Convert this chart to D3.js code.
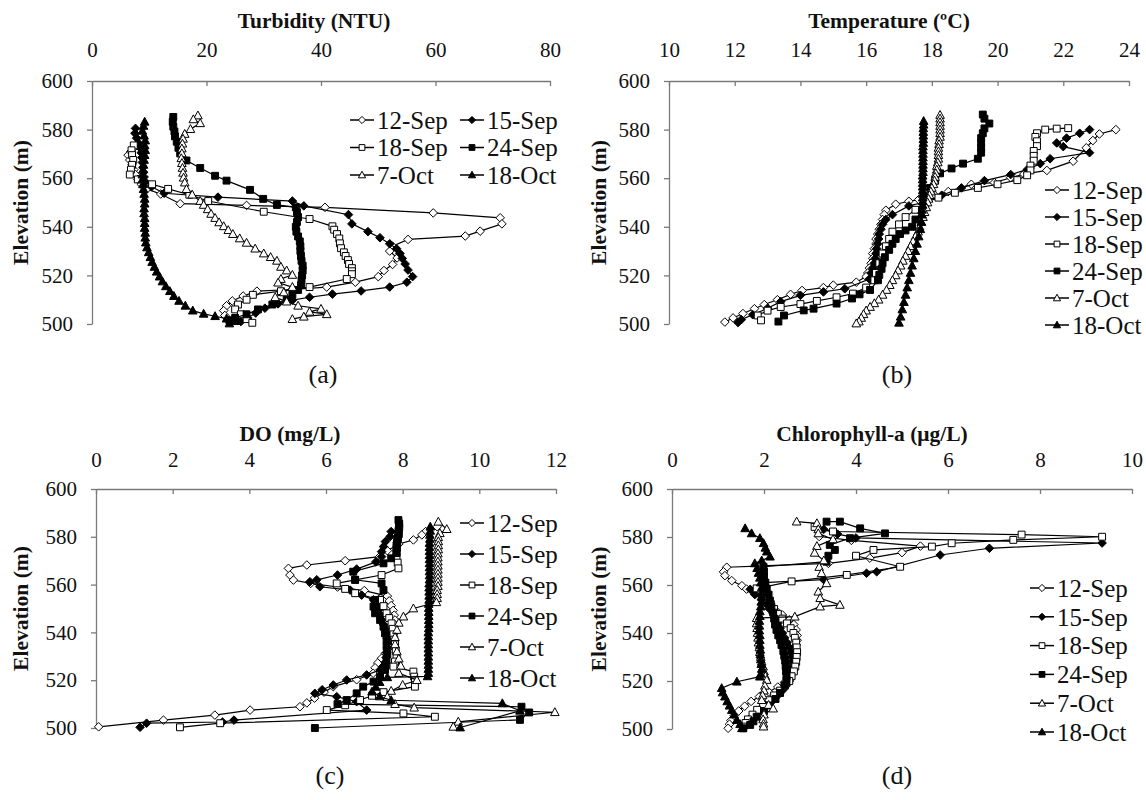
<!DOCTYPE html>
<html>
<head>
<meta charset="utf-8">
<script src="https://cdn.jsdelivr.net/npm/d3@7"></script>
<style>
  body { margin: 0; background: #fff; }
  svg { display: block; }
</style>
</head>
<body>
<svg id="chart" width="1146" height="800"></svg>
<script>
// ---- Sampling dates (legend order) and axis ticks ----
const dates = ["12-Sep", "15-Sep", "18-Sep", "24-Sep", "7-Oct", "18-Oct"];
const elevTicks = [500, 520, 540, 560, 580, 600];
const turbTicks = [0, 20, 40, 60, 80];
const tempTicks = [10, 12, 14, 16, 18, 20, 22, 24];
const doTicks = [0, 2, 4, 6, 8, 10, 12];
const chlTicks = [0, 2, 4, 6, 8, 10];

// ---- Turbidity profiles: [NTU, elevation m] ----
const turb12Sep = [[7.5,573],[6.8,571],[6.3,569.5],[6.6,567.5],[7.0,565.5],[7.3,563.5],[7.6,561.5],[8.0,559.5],[8.6,557.5],[9.6,555.5],[12.0,553.5],[15.4,549.5],[27.0,548.8],[40.7,548.0],[59.6,545.7],[71.3,543.7],[71.6,541.2],[67.8,538.2],[65.2,536.2],[55.2,534.8],[52.5,532.0],[52.0,530.0],[53.3,527.2],[52.5,524.5],[51.0,522.0],[50.0,519.5],[46.0,517.2],[41.0,515.2],[35.0,514.2],[28.8,513.5],[26.4,511.5],[24.5,509.5],[23.5,507.5],[23.0,505.5],[23.2,503.5],[24.0,501.5]];
const turb15Sep = [[7.6,580.5],[7.5,578.5],[7.8,576.5],[8.1,574.5],[8.4,572.5],[8.6,570.5],[8.7,568.5],[8.8,566.5],[8.9,564.5],[9.0,562.5],[9.1,560.5],[9.3,558.5],[10.4,556.5],[12.6,553.8],[22.0,552.2],[35.0,550.6],[37.0,548.6],[44.8,545.0],[45.4,541.2],[48.2,538.0],[50.3,535.5],[52.0,533.0],[53.2,531.0],[53.8,529.0],[54.2,527.0],[54.7,524.7],[55.2,522.2],[56.0,519.5],[55.0,517.2],[52.0,515.2],[47.0,513.6],[42.0,512.3],[38.0,511.0],[35.0,509.8],[32.5,508.3],[30.2,506.5],[28.6,504.5],[27.2,502.5],[26.0,501.0]];
const turb18Sep = [[7.3,573.5],[6.9,571.5],[7.0,569.5],[7.2,567.5],[7.0,565.5],[6.8,563.5],[6.6,561.5],[8.0,559.5],[10.5,557.5],[13.3,555.6],[17.0,553.2],[20.3,550.6],[30.0,546.2],[38.0,543.2],[42.0,540.2],[42.3,538.8],[42.8,537.0],[43.2,535.2],[43.3,533.2],[43.5,531.2],[44.0,529.5],[44.3,528.0],[44.7,526.3],[44.9,524.7],[45.4,523.0],[45.4,521.7],[45.4,520.5],[44.5,518.5],[38.0,515.2],[33.0,513.5],[28.1,512.0],[27.0,510.0],[25.5,508.0],[25.0,506.0],[26.0,504.0],[27.0,502.0],[28.0,500.5]];
const turb24Sep = [[14.2,585.2],[14.1,583.2],[14.2,581.2],[14.4,579.2],[14.5,577.2],[14.8,575.0],[15.1,572.5],[15.4,570.2],[16.5,567.3],[18.9,564.2],[21.5,561.0],[23.5,559.0],[27.6,555.2],[29.9,551.5],[32.3,549.0],[35.6,548.0],[35.8,546.0],[36.0,544.0],[35.8,542.0],[35.6,540.0],[35.7,538.0],[36.0,536.0],[36.3,534.0],[36.4,532.0],[36.4,530.0],[36.5,528.0],[36.6,526.0],[36.8,524.0],[36.8,522.0],[36.7,520.0],[36.6,518.0],[36.5,516.0],[36.0,514.0],[35.0,512.0],[34.0,510.0],[31.5,508.0],[29.0,506.0],[27.0,504.0],[25.0,502.5],[24.0,501.5]];
const turb7Oct = [[18.5,585.8],[17.7,584.2],[18.9,582.6],[17.2,580.2],[16.2,578.2],[15.9,576.2],[15.8,574.2],[15.7,572.2],[15.7,570.2],[15.6,568.2],[15.7,566.2],[15.8,564.2],[15.9,562.2],[16.0,560.2],[16.2,558.2],[16.5,555.5],[17.5,553.2],[18.9,550.6],[19.5,549.0],[20.2,547.2],[20.8,545.3],[21.5,543.6],[22.2,541.8],[23.0,540.2],[23.8,538.6],[24.6,537.0],[25.8,535.2],[27.0,533.4],[28.5,531.0],[30.0,529.0],[31.2,527.5],[32.3,526.0],[33.0,523.5],[34.0,522.0],[35.0,520.2],[33.0,518.5],[32.5,517.0],[35.0,515.2],[33.5,513.0],[32.0,511.0],[34.0,509.2],[36.0,507.5],[40.0,506.2],[38.0,505.0],[41.0,504.0],[37.0,503.0],[35.0,502.0]];
const turb18Oct = [[9.2,583.2],[9.0,581.5],[8.8,579.5],[9.1,577.5],[9.3,575.5],[9.2,573.5],[9.3,571.5],[9.2,569.5],[9.1,567.5],[9.0,565.5],[8.9,563.5],[8.8,561.5],[8.8,559.5],[8.9,557.5],[9.0,555.5],[9.1,553.5],[9.2,551.5],[9.2,549.5],[9.1,547.5],[9.1,545.5],[9.2,543.5],[9.2,541.5],[9.2,539.5],[9.3,537.5],[9.3,535.5],[9.4,533.5],[9.6,531.5],[9.9,529.5],[10.2,527.5],[10.5,525.5],[10.9,523.5],[11.3,521.5],[11.8,519.5],[12.3,517.5],[12.9,515.5],[13.6,513.5],[14.3,511.5],[15.2,509.5],[16.3,507.5],[17.6,505.5],[19.5,504.2],[21.5,503.2],[23.5,502.2],[25.0,501.2],[24.0,500.2]];

// ---- Temperature profiles: [degC, elevation m] ----
const temp12Sep = [[23.6,580.0],[23.1,578.2],[22.9,575.5],[22.7,572.5],[22.3,567.0],[21.5,563.2],[20.8,561.7],[20.4,560.2],[19.9,558.2],[19.2,557.5],[18.5,554.5],[18.1,552.8],[17.6,551.2],[17.3,550.5],[16.9,549.3],[16.6,546.8],[16.55,545],[16.5,543],[16.45,541],[16.4,539],[16.35,537],[16.3,535],[16.3,533],[16.25,531],[16.2,529],[16.2,527],[16.15,525],[16.1,523],[16.05,521],[16.0,519.5],[15.7,517.2],[15.0,516.0],[14.7,515.0],[14.05,513.8],[13.7,512.2],[13.3,510.0],[12.9,508.0],[12.6,506.3],[12.25,504.3],[11.95,502.5],[11.7,500.8]];
const temp15Sep = [[22.8,580.0],[22.5,578.5],[22.1,576.5],[21.8,574.5],[22.0,573.0],[22.8,570.5],[21.6,568.0],[21.3,566.0],[20.9,563.5],[20.4,561.5],[19.6,559.0],[18.9,556.0],[18.3,553.0],[17.8,550.2],[17.3,548.6],[16.8,545.0],[16.6,543],[16.5,541.0],[16.45,539],[16.4,537.0],[16.38,535],[16.35,533.0],[16.32,531],[16.3,529.0],[16.28,527],[16.25,525.0],[16.2,523],[16.15,521.0],[16.1,518.5],[15.35,514.5],[14.7,513.2],[14.0,511.8],[13.4,509.2],[13.0,506.5],[12.55,503.8],[12.2,501.8],[12.1,500.6]];
const temp18Sep = [[22.15,580.6],[21.8,580.4],[21.45,580.0],[21.2,578.5],[21.15,577.0],[21.2,575.2],[21.2,573.2],[21.1,571.2],[21.1,569.2],[21.1,567.2],[21.0,565.2],[21.0,563.2],[20.9,561.2],[20.6,559.2],[20.0,557.5],[19.4,556.0],[18.7,554.0],[18.2,552.0],[17.8,550.0],[17.5,547.0],[17.2,544.0],[17.0,541.0],[16.8,538.0],[16.7,535.0],[16.6,532.0],[16.5,529.0],[16.4,525.0],[16.3,521.0],[16.25,518.0],[16.0,515.0],[15.6,512.5],[15.1,511.0],[14.5,509.5],[14.0,508.2],[13.4,507.0],[13.0,505.5],[12.7,503.5],[12.8,501.5]];
const temp24Sep = [[19.55,586.2],[19.6,584.5],[19.75,582.5],[19.6,580.5],[19.55,578.5],[19.5,576.5],[19.5,574.5],[19.5,572.5],[19.5,570.5],[19.4,568.0],[18.95,566.0],[18.6,564.0],[18.25,562.0],[18.1,559.0],[17.95,556.0],[17.85,552.5],[17.8,549.5],[17.7,546.5],[17.5,543],[17.4,540.0],[17.2,538.5],[17.03,537.0],[16.9,535],[16.8,533.0],[16.7,530.5],[16.57,527.5],[16.5,525],[16.47,522.7],[16.4,520.2],[16.36,518.0],[16.12,514.0],[15.8,512.2],[15.57,510.5],[15.1,508.4],[14.4,506.3],[14.1,505.6],[13.5,503.5],[13.33,501.0]];
const temp7Oct = [[18.25,586.0],[18.25,584.5],[18.25,583],[18.25,581.5],[18.25,580],[18.25,578.5],[18.25,577],[18.22,575.5],[18.22,574],[18.2,572.5],[18.2,571],[18.2,569.5],[18.2,568],[18.18,566.5],[18.15,565],[18.15,563.5],[18.12,562],[18.1,560.5],[18.08,559],[18.05,557.5],[18.0,556],[17.97,554.5],[17.93,553],[17.9,551.5],[17.87,550],[17.83,548],[17.78,546],[17.73,544],[17.68,542],[17.63,540],[17.58,538],[17.5,536],[17.43,534],[17.35,532],[17.28,530],[17.2,528],[17.12,526],[17.05,524],[16.97,522],[16.9,520],[16.8,518],[16.72,516],[16.62,514],[16.5,512],[16.38,510],[16.25,508.5],[16.12,507],[16.0,505.5],[15.92,504],[15.85,502.5],[15.78,501],[15.7,500.2]];
const temp18Oct = [[17.75,583.5],[17.75,582],[17.74,580.5],[17.74,579],[17.74,577.5],[17.74,576],[17.74,574.5],[17.73,573],[17.73,571.5],[17.73,570],[17.73,568.5],[17.73,567],[17.73,565.5],[17.73,564],[17.73,562.5],[17.72,561],[17.72,559.5],[17.72,558],[17.72,556.5],[17.72,555],[17.72,553.5],[17.72,552],[17.72,550.5],[17.72,549],[17.7,547],[17.7,545],[17.68,542],[17.65,539],[17.6,536],[17.55,533],[17.5,530],[17.45,527],[17.4,524],[17.35,521],[17.3,518],[17.25,515],[17.2,512],[17.15,509],[17.1,506],[17.05,503],[17.0,500.5]];

// ---- Dissolved oxygen profiles: [mg/L, elevation m] ----
const do12Sep = [[8.9,584.2],[8.6,582.2],[8.5,580.8],[8.28,578.7],[7.9,577],[7.6,574.2],[7.4,571.7],[6.5,570],[5.5,568.2],[5.02,566.8],[5.06,564],[5.15,561.9],[5.6,560.5],[6.3,559],[7.0,557.5],[7.6,555.2],[7.65,553.2],[7.7,551.2],[7.75,549.2],[7.78,547.2],[7.8,545.2],[7.8,543.2],[7.78,541.2],[7.75,539.2],[7.72,537.2],[7.68,535.2],[7.62,533.2],[7.55,531.2],[7.45,529.2],[7.35,527.2],[7.28,525.2],[7.23,522.9],[6.8,520.2],[6.19,517.3],[5.95,515],[5.7,512.5],[5.5,510.5],[5.32,508.9],[4.02,507.5],[3.1,505.4],[1.76,503.3],[0.07,500.5]];
const do15Sep = [[7.7,582.2],[7.67,580.1],[7.55,578],[7.5,575.9],[7.45,573.8],[7.45,571.7],[7.3,569.5],[6.8,566.5],[6.3,564],[5.76,562],[5.58,561.2],[5.84,559.1],[6.63,557.7],[6.93,555.6],[7.24,553.6],[7.3,551.5],[7.37,549.4],[7.42,547.3],[7.45,545.2],[7.5,543.2],[7.55,541.4],[7.58,539.6],[7.6,537.5],[7.6,535.5],[7.6,533.5],[7.58,531.5],[7.57,529.5],[7.55,527.5],[7.5,525.8],[7.41,524.3],[7.06,522.2],[6.54,520.1],[6.19,518],[5.9,516],[5.71,514.5],[6.28,513.1],[6.8,511],[7.06,507.5],[3.6,503.3],[3.3,502.5],[1.32,502],[1.15,500.3]];
const do18Sep = [[7.9,581.2],[7.88,579.5],[7.85,577.5],[7.85,575.5],[7.84,573.5],[7.84,571.5],[7.87,569.2],[7.89,566.8],[7.45,564],[6.76,562],[6.28,560.5],[6.5,558.2],[6.76,556.4],[7.41,553.6],[7.5,551],[7.58,548],[7.65,546],[7.71,543.8],[7.74,541.5],[7.76,539.2],[7.78,537],[7.8,535],[7.82,532.5],[7.84,530],[7.8,527.8],[7.76,525.7],[8.28,523.6],[8.3,521.5],[8.32,519.5],[8.32,517.3],[7.5,515],[7.2,513.5],[6.89,511.7],[6.5,509.5],[6.02,507.5],[8.02,506.1],[8.84,504.7],[3.24,502],[2.19,500.3]];
const do24Sep = [[7.89,587],[7.91,585.5],[7.91,584],[7.89,582.5],[7.89,581],[7.87,579.5],[7.86,578],[7.84,576.5],[7.84,575],[7.84,573.2],[7.7,571],[7.5,568.9],[6.71,565.4],[6.76,562],[7.45,560.5],[7.5,557.7],[7.28,553.6],[7.24,550.8],[7.28,548],[7.41,545.2],[7.5,542.4],[7.54,539.6],[7.58,537],[7.58,534],[7.6,531],[7.58,528.5],[7.56,526.3],[7.54,524.3],[7.41,521.5],[7.24,519.4],[6.97,517.3],[6.8,514.5],[6.54,511.7],[6.3,510],[11.1,508.9],[11.3,506.5],[11.06,503.4],[5.71,500]];
const do7Oct = [[8.93,586.3],[9.15,583.2],[8.97,581.5],[8.93,579.8],[8.93,578.1],[8.93,576.4],[8.93,574.7],[8.92,573],[8.92,571.3],[8.92,569.6],[8.92,567.9],[8.92,566.2],[8.92,564.5],[8.92,562.8],[8.92,561.1],[8.92,559.4],[8.9,557.7],[8.9,556],[8.9,554.3],[8.88,552.6],[8.28,550],[8.02,546.6],[7.9,544],[7.85,541],[7.8,538],[7.8,535],[7.85,532],[7.9,529],[7.95,526],[7.9,523],[8.37,520],[8.0,518],[7.7,515.5],[7.6,513],[7.8,510],[8.3,508.5],[11.97,506.6],[9.45,502.6],[9.32,500.5]];
const do18Oct = [[8.72,584.2],[8.72,582.5],[8.71,580.8],[8.71,579.1],[8.7,577.4],[8.7,575.7],[8.7,574],[8.7,572.3],[8.7,570.6],[8.7,568.9],[8.7,567.2],[8.7,565.5],[8.7,563.8],[8.7,562.1],[8.69,560.4],[8.69,558.7],[8.69,557],[8.69,555.3],[8.69,553.6],[8.68,551.9],[8.68,550.2],[8.68,548.5],[8.68,546.8],[8.68,545.1],[8.68,543.4],[8.68,541.7],[8.67,540],[8.67,538.3],[8.67,536.6],[8.67,534.9],[8.67,533.2],[8.67,531.5],[8.67,529.8],[8.67,528.1],[8.67,526.4],[8.67,524.7],[8.67,523],[8.65,521.6],[7.6,521.2],[7.4,519.2],[7.3,517.2],[7.2,515.2],[7.4,513.2],[7.7,511.6],[10.6,510.3],[11.06,507.2],[9.5,500.2]];

// ---- Chlorophyll-a profiles: [ug/L, elevation m] ----
const chl12Sep = [[3.2,580.2],[3.9,578.6],[5.4,576.2],[5.0,573.5],[4.3,571.2],[3.4,569],[1.19,567.4],[1.12,565.5],[1.15,563.9],[1.3,561.8],[1.52,559.7],[1.62,558.3],[1.8,556.2],[1.95,554],[2.1,551.5],[2.25,549.5],[2.4,547.5],[2.55,545.5],[2.65,543.5],[2.7,541.3],[2.72,539],[2.72,537],[2.7,535],[2.7,533],[2.68,531],[2.66,529],[2.64,527],[2.62,525],[2.58,523],[2.52,521],[2.45,519.5],[2.3,517.5],[2.1,515.5],[1.9,513.5],[1.72,511.5],[1.58,509.5],[1.45,507.5],[1.35,505.5],[1.28,503.5],[1.25,502],[1.22,500.3]];
const chl15Sep = [[3.3,583.2],[3.6,581.2],[4.0,579.6],[9.35,577.5],[6.9,575.3],[5.83,572.5],[4.45,565.5],[4.23,564.9],[3.3,562.2],[2.0,561],[1.7,558.2],[1.8,556],[1.95,554],[2.05,552],[2.12,550],[2.2,548],[2.25,546],[2.3,544],[2.35,542],[2.4,540],[2.45,538],[2.5,536],[2.55,534],[2.58,532],[2.6,530],[2.62,528],[2.63,526],[2.62,524],[2.58,522],[2.55,520],[2.48,518],[2.4,516],[2.3,514],[2.2,512],[2.05,510],[1.9,508],[1.8,506],[1.7,504.5],[1.65,503],[1.6,501.5]];
const chl18Sep = [[3.1,584.2],[3.5,582.3],[7.6,581],[9.35,580.1],[7.42,578.8],[6.08,577.4],[5.65,576],[4.38,574.6],[4.0,572.2],[4.96,567.6],[3.8,564.2],[2.6,561.5],[1.84,558.6],[2.0,556.5],[2.08,554.5],[2.15,552],[2.22,550],[2.3,548],[2.4,546],[2.5,544],[2.58,542],[2.64,540],[2.67,538],[2.7,536],[2.71,534],[2.72,532],[2.71,530],[2.7,528],[2.68,526],[2.65,524],[2.6,522],[2.55,520],[2.45,518],[2.35,516],[2.22,514],[2.1,512],[1.98,510],[1.85,508],[1.75,506],[1.65,504],[1.6,502.5],[1.55,501]];
const chl24Sep = [[3.36,586.4],[3.65,586.4],[4.09,583.6],[4.63,581.5],[3.87,579.5],[3.43,576.7],[3.54,574.6],[3.4,572.2],[3.36,569.7],[1.99,567.6],[2.0,565.5],[2.0,563.2],[2.03,561],[2.06,558.5],[2.1,556],[2.13,553.5],[2.16,551],[2.2,548.5],[2.22,546],[2.24,543.5],[2.27,541.3],[2.31,539],[2.35,537],[2.38,535],[2.42,532.5],[2.44,530.5],[2.46,528.5],[2.47,526.2],[2.48,524],[2.49,522],[2.49,520.4],[2.45,518.2],[2.35,515],[2.25,512.5],[2.13,509.8],[2.0,507.5],[1.84,505.1],[1.77,503.2],[1.7,501.7],[1.55,500.3]];
const chl7Oct = [[2.71,586.4],[3.15,585.7],[3.18,583.2],[3.18,581.5],[3.5,579],[3.15,576.2],[3.1,573.4],[3.3,570.2],[3.2,567.5],[3.25,564.9],[3.36,560.7],[3.18,557.2],[3.22,554.5],[3.65,551.7],[3.22,551],[2.67,546.8],[1.84,546.2],[1.84,544],[1.85,542],[1.86,540],[1.87,538],[1.88,536],[1.9,534],[1.91,532],[1.93,530],[1.95,528],[1.98,526],[2.0,524],[2.03,522],[2.06,520.4],[2.02,518],[2.0,516],[1.97,514],[1.95,512],[2.1,510],[2.2,508.5],[2.0,506],[1.98,504],[1.99,502.2],[1.99,501]];
const chl18Oct = [[1.59,583.6],[1.73,581.5],[1.91,579.5],[1.99,577.4],[2.03,575.5],[2.06,573.9],[2.13,571.8],[1.95,570.2],[1.8,569],[1.85,567],[1.88,565],[1.91,563],[1.93,561],[1.95,559],[1.95,557],[1.95,555],[1.94,553],[1.93,551],[1.91,549],[1.91,547],[1.9,545],[1.9,543],[1.9,541],[1.91,539],[1.91,537],[1.91,535],[1.92,533],[1.92,531],[1.93,529],[1.94,527],[1.95,525],[1.93,523],[1.91,521.8],[1.41,519.7],[1.08,517],[1.1,515.2],[1.15,513.5],[1.2,511.5],[1.25,509.7],[1.3,507.9],[1.35,506],[1.41,503.7],[1.48,502],[1.52,500.3]];

// ---- Font: first locally available serif face, else the default face ----
function firstAvailable(names) {
  const ctx = document.createElement("canvas").getContext("2d");
  const sample = "Elevation (m) 0123456789 Sep Oct Turbidity";
  for (const name of names) {
    for (const base of ["monospace", "sans-serif"]) {
      ctx.font = `20px ${base}`;
      const w0 = ctx.measureText(sample).width;
      ctx.font = `20px "${name}", ${base}`;
      const w1 = ctx.measureText(sample).width;
      if (Math.abs(w1 - w0) > 0.5) return name;
    }
  }
  return null;
}
const serifFace = firstAvailable(["Liberation Serif", "Tinos", "Times New Roman", "Nimbus Roman",
  "DejaVu Serif", "Noto Serif", "FreeSerif", "Noto Serif CJK SC", "Noto Serif CJK JP", "Georgia"]);
const FONT = serifFace ? `"${serifFace}", serif` : "sans-serif";
const SIZE = serifFace
  ? { tick: 21, title: 21.5, legend: 25, caption: 26 }
  : { tick: 21, title: 21, legend: 24, caption: 25 };

const AXIS_COLOR = "#7a7a7a";
const svg = d3.select("#chart").style("font-family", FONT);

// Marker glyphs, one per sampling date
const markerStyles = [
  { shape: "diamond",  fill: "#fff" },
  { shape: "diamond",  fill: "#000" },
  { shape: "square",   fill: "#fff" },
  { shape: "square",   fill: "#000" },
  { shape: "triangle", fill: "#fff" },
  { shape: "triangle", fill: "#000" }
];
function markerPath(shape, r) {
  if (shape === "diamond") return `M0,${-r}L${r},0L0,${r}L${-r},0Z`;
  if (shape === "square") { const s = r * 0.8; return `M${-s},${-s}H${s}V${s}H${-s}Z`; }
  return `M0,${-r * 1.05}L${r},${r * 0.78}L${-r},${r * 0.78}Z`;
}

const panels = [
  { series: [turb12Sep, turb15Sep, turb18Sep, turb24Sep, turb7Oct, turb18Oct],
    xDomain: [0, 80], xTicks: turbTicks, box: { l: 92, r: 550, t: 81, b: 324 },
    title: "Turbidity (NTU)", titleX: 314, titleY: 28, tickGap: 24, elevX: 20,
    caption: "(a)", capX: 323, capY: 383,
    legend: dates.map((d, i) => ({ x: i % 2 ? 460 : 350, y: 120 + Math.floor(i / 2) * 27.5 })) },
  { series: [temp12Sep, temp15Sep, temp18Sep, temp24Sep, temp7Oct, temp18Oct],
    xDomain: [10, 24], xTicks: tempTicks, box: { l: 669, r: 1129, t: 81, b: 324 },
    title: "Temperature (ºC)", titleX: 889, titleY: 28, tickGap: 24, elevX: 598,
    caption: "(b)", capX: 897, capY: 383,
    legend: dates.map((d, i) => ({ x: 1045, y: 190 + i * 27 })) },
  { series: [do12Sep, do15Sep, do18Sep, do24Sep, do7Oct, do18Oct],
    xDomain: [0, 12], xTicks: doTicks, box: { l: 96, r: 556, t: 489, b: 728 },
    title: "DO (mg/L)", titleX: 290, titleY: 441, tickGap: 22, elevX: 20,
    caption: "(c)", capX: 330, capY: 784,
    legend: dates.map((d, i) => ({ x: 460, y: 523 + i * 31 })) },
  { series: [chl12Sep, chl15Sep, chl18Sep, chl24Sep, chl7Oct, chl18Oct],
    xDomain: [0, 10], xTicks: chlTicks, box: { l: 672, r: 1132, t: 489, b: 729 },
    title: "Chlorophyll-a (μg/L)", titleX: 872, titleY: 441, tickGap: 22, elevX: 598,
    caption: "(d)", capX: 897, capY: 784,
    legend: dates.map((d, i) => ({ x: 1030, y: 588 + i * 28.8 })) }
];

panels.forEach(p => {
  const { l, r, t, b } = p.box;
  const x = d3.scaleLinear().domain(p.xDomain).range([l, r]);
  const y = d3.scaleLinear().domain([500, 600]).range([b, t]);
  const g = svg.append("g");

  // Top value axis with inward ticks
  const gx = g.append("g").attr("transform", `translate(0,${t})`)
    .call(d3.axisTop(x).tickValues(p.xTicks).tickSizeInner(-5).tickSizeOuter(0).tickPadding(p.tickGap));
  // Left elevation axis with outward ticks
  const gy = g.append("g").attr("transform", `translate(${l},0)`)
    .call(d3.axisLeft(y).tickValues(elevTicks).tickSizeInner(5).tickSizeOuter(0).tickPadding(14));
  [gx, gy].forEach(ax => {
    ax.attr("font-family", null).attr("font-size", null)
      .style("font-family", FONT).style("font-size", SIZE.tick + "px");
    ax.select(".domain").attr("stroke", AXIS_COLOR).attr("stroke-width", 1.3);
    ax.selectAll(".tick line").attr("stroke", AXIS_COLOR).attr("stroke-width", 1.3);
    ax.selectAll(".tick text").attr("fill", "#111");
  });

  // Panel title
  g.append("text").attr("x", p.titleX).attr("y", p.titleY).attr("text-anchor", "middle")
    .style("font-size", SIZE.title + "px").style("font-weight", "bold").attr("fill", "#111").text(p.title);

  // Elevation axis title
  g.append("text").attr("transform", `translate(${p.elevX},${(t + b) / 2}) rotate(-90)`)
    .attr("text-anchor", "middle").attr("dy", "0.35em")
    .style("font-size", SIZE.title + "px").style("font-weight", "bold").attr("fill", "#111").text("Elevation (m)");

  // Caption
  g.append("text").attr("x", p.capX).attr("y", p.capY).attr("text-anchor", "middle")
    .style("font-size", SIZE.caption + "px").attr("fill", "#111").text(p.caption);

  // Profiles: each date draws its line then its markers
  const line = d3.line().x(d => x(d[0])).y(d => y(d[1]));
  p.series.forEach((data, i) => {
    const st = markerStyles[i];
    const sg = g.append("g");
    sg.append("path").attr("d", line(data)).attr("fill", "none")
      .attr("stroke", "#000").attr("stroke-width", 1.2);
    sg.selectAll("path.mk").data(data).join("path").attr("class", "mk")
      .attr("transform", d => `translate(${x(d[0])},${y(d[1])})`)
      .attr("d", markerPath(st.shape, 4.3))
      .attr("fill", st.fill).attr("stroke", "#000").attr("stroke-width", 1);
  });

  // Legend
  p.legend.forEach((pos, i) => {
    const st = markerStyles[i];
    const lg = g.append("g").attr("transform", `translate(${pos.x},${pos.y})`);
    lg.append("line").attr("x1", 0).attr("x2", 24).attr("y1", 0).attr("y2", 0)
      .attr("stroke", "#000").attr("stroke-width", 1.5);
    lg.append("path").attr("transform", "translate(12,0)").attr("d", markerPath(st.shape, 3.6))
      .attr("fill", st.fill).attr("stroke", "#000").attr("stroke-width", 1);
    lg.append("text").attr("x", 27).attr("dy", "0.35em").style("font-size", SIZE.legend + "px")
      .attr("fill", "#111").text(dates[i]);
  });
});
</script>
</body>
</html>
